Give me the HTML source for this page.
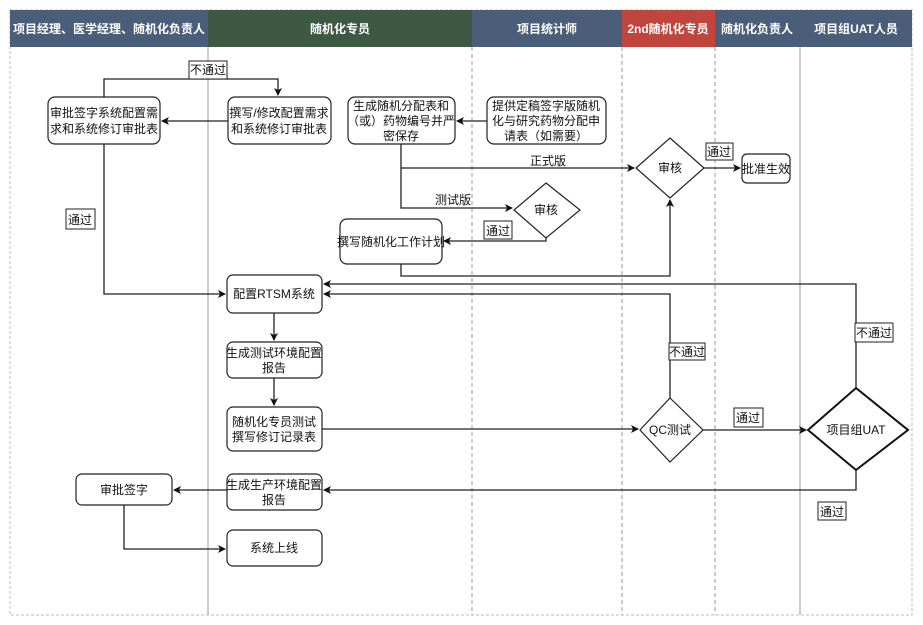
<!DOCTYPE html>
<html><head><meta charset="utf-8"><style>
html,body{margin:0;padding:0;background:#fff}
svg{display:block}
text{font-family:"Liberation Sans","Noto Sans CJK SC",sans-serif;font-size:12px;fill:#111}
.h{fill:#fff;font-weight:bold;font-size:12px}
.b{fill:#fff;stroke:#222;stroke-width:1.2}
.l{fill:none;stroke:#222;stroke-width:1.3}
.lb{fill:#fff;stroke:#222;stroke-width:1}
</style></head><body>
<svg width="923" height="625" viewBox="0 0 923 625" xmlns="http://www.w3.org/2000/svg">
<defs><marker id="a" markerWidth="8" markerHeight="8" refX="7" refY="4" orient="auto" markerUnits="userSpaceOnUse"><path d="M0,0 L8,4 L0,8 L2,4 z" fill="#111"/></marker></defs>
<rect x="10" y="10" width="902" height="605" fill="none" stroke="#bbb" stroke-dasharray="3,2"/>
<rect x="10" y="10" width="198" height="37" fill="#4a5e7a"/>
<rect x="208" y="10" width="264" height="37" fill="#3d5944"/>
<rect x="472" y="10" width="150" height="37" fill="#4a5e7a"/>
<rect x="622" y="10" width="93" height="37" fill="#c0453c"/>
<rect x="715" y="10" width="85" height="37" fill="#4a5e7a"/>
<rect x="800" y="10" width="112" height="37" fill="#4a5e7a"/>
<g text-anchor="middle">
<text class="h" x="109" y="33">项目经理、医学经理、随机化负责人</text>
<text class="h" x="340" y="33">随机化专员</text>
<text class="h" x="547" y="33">项目统计师</text>
<text class="h" x="668" y="33">2nd随机化专员</text>
<text class="h" x="757" y="33">随机化负责人</text>
<text class="h" x="856" y="33">项目组UAT人员</text>
</g>
<g stroke="#999" stroke-width="1">
<line x1="208" y1="47" x2="208" y2="615"/>
<line x1="472" y1="47" x2="472" y2="615" stroke-dasharray="4,3"/>
<line x1="622" y1="47" x2="622" y2="615" stroke-dasharray="4,3"/>
<line x1="715" y1="47" x2="715" y2="615" stroke-dasharray="4,3"/>
<line x1="800" y1="47" x2="800" y2="615"/>
</g>
<!-- edges -->
<g class="l">
<path d="M104,97 V79 H278 V95" marker-end="url(#a)"/>
<path d="M228,121 H162" marker-end="url(#a)"/>
<path d="M487,121 H457" marker-end="url(#a)"/>
<path d="M401,144 V208 H512" marker-end="url(#a)"/>
<path d="M401,168 H634" marker-end="url(#a)"/>
<path d="M546,238 V241 H444" marker-end="url(#a)"/>
<path d="M401,264 V276 H670 V200" marker-end="url(#a)"/>
<path d="M704,168 H740" marker-end="url(#a)"/>
<path d="M104,144 V294 H225" marker-end="url(#a)"/>
<path d="M274,313 V340" marker-end="url(#a)"/>
<path d="M274,378 V405" marker-end="url(#a)"/>
<path d="M322,429 H638" marker-end="url(#a)"/>
<path d="M703,430 H806" marker-end="url(#a)"/>
<path d="M670,398 V294 H324" marker-end="url(#a)"/>
<path d="M856,388 V284 H324" marker-end="url(#a)"/>
<path d="M856,470 V490 H324" marker-end="url(#a)"/>
<path d="M227,490 H174" marker-end="url(#a)"/>
<path d="M124,505 V549 H225" marker-end="url(#a)"/>
</g>
<!-- nodes -->
<rect class="b" x="48" y="97" width="112" height="47" rx="7"/>
<rect class="b" x="228" y="97" width="103" height="47" rx="7"/>
<rect class="b" x="348" y="97" width="107" height="47" rx="7"/>
<rect class="b" x="487" y="97" width="119" height="47" rx="7"/>
<rect class="b" x="742" y="154" width="48" height="29" rx="5"/>
<rect class="b" x="340" y="219" width="102" height="45" rx="7"/>
<rect class="b" x="227" y="275" width="95" height="38" rx="6"/>
<rect class="b" x="227" y="342" width="95" height="36" rx="6"/>
<rect class="b" x="227" y="407" width="95" height="44" rx="6"/>
<rect class="b" x="227" y="474" width="95" height="36" rx="6"/>
<rect class="b" x="76" y="474" width="96" height="31" rx="6"/>
<rect class="b" x="227" y="530" width="95" height="36" rx="6"/>
<path class="b" d="M670,138 L704,168 L670,198 L636,168 z"/>
<path class="b" d="M546,183 L580,210 L546,238 L514,210 z"/>
<path class="b" d="M670,398 L703,430 L670,462 L640,430 z"/>
<path d="M856,388 L908,430 L856,470 L808,430 z" fill="#fff" stroke="#111" stroke-width="2"/>
<!-- labels -->
<rect class="lb" x="189" y="61" width="38" height="18"/>
<rect class="lb" x="66" y="209" width="29" height="20"/>
<rect class="lb" x="484" y="221" width="28" height="18"/>
<rect class="lb" x="706" y="143" width="27" height="17"/>
<rect class="lb" x="734" y="408" width="29" height="19"/>
<rect class="lb" x="669" y="343" width="36" height="17"/>
<rect class="lb" x="855" y="323" width="38" height="19"/>
<rect class="lb" x="818" y="502" width="28" height="18"/>
<g text-anchor="middle">
<text x="208" y="74">不通过</text>
<text x="80" y="224">通过</text>
<text x="498" y="235">通过</text>
<text x="719" y="156">通过</text>
<text x="748" y="422">通过</text>
<text x="687" y="356">不通过</text>
<text x="874" y="337">不通过</text>
<text x="832" y="516">通过</text>
<text x="548" y="165">正式版</text>
<text x="453" y="204">测试版</text>
<text x="104" y="117">审批签字系统配置需</text><text x="104" y="133">求和系统修订审批表</text>
<text x="279" y="117">撰写/修改配置需求</text><text x="279" y="133">和系统修订审批表</text>
<text x="401" y="110">生成随机分配表和</text><text x="401" y="125">（或）药物编号并严</text><text x="401" y="140">密保存</text>
<text x="546" y="110">提供定稿签字版随机</text><text x="546" y="125">化与研究药物分配申</text><text x="546" y="140">请表（如需要）</text>
<text x="670" y="172">审核</text>
<text x="766" y="173">批准生效</text>
<text x="546" y="214">审核</text>
<text x="391" y="246">撰写随机化工作计划</text>
<text x="274" y="298">配置RTSM系统</text>
<text x="274" y="357">生成测试环境配置</text><text x="274" y="372">报告</text>
<text x="274" y="426">随机化专员测试</text><text x="274" y="441">撰写修订记录表</text>
<text x="670" y="434">QC测试</text>
<text x="856" y="434">项目组UAT</text>
<text x="274" y="489">生成生产环境配置</text><text x="274" y="504">报告</text>
<text x="124" y="494">审批签字</text>
<text x="274" y="552">系统上线</text>
</g>
</svg>
</body></html>
